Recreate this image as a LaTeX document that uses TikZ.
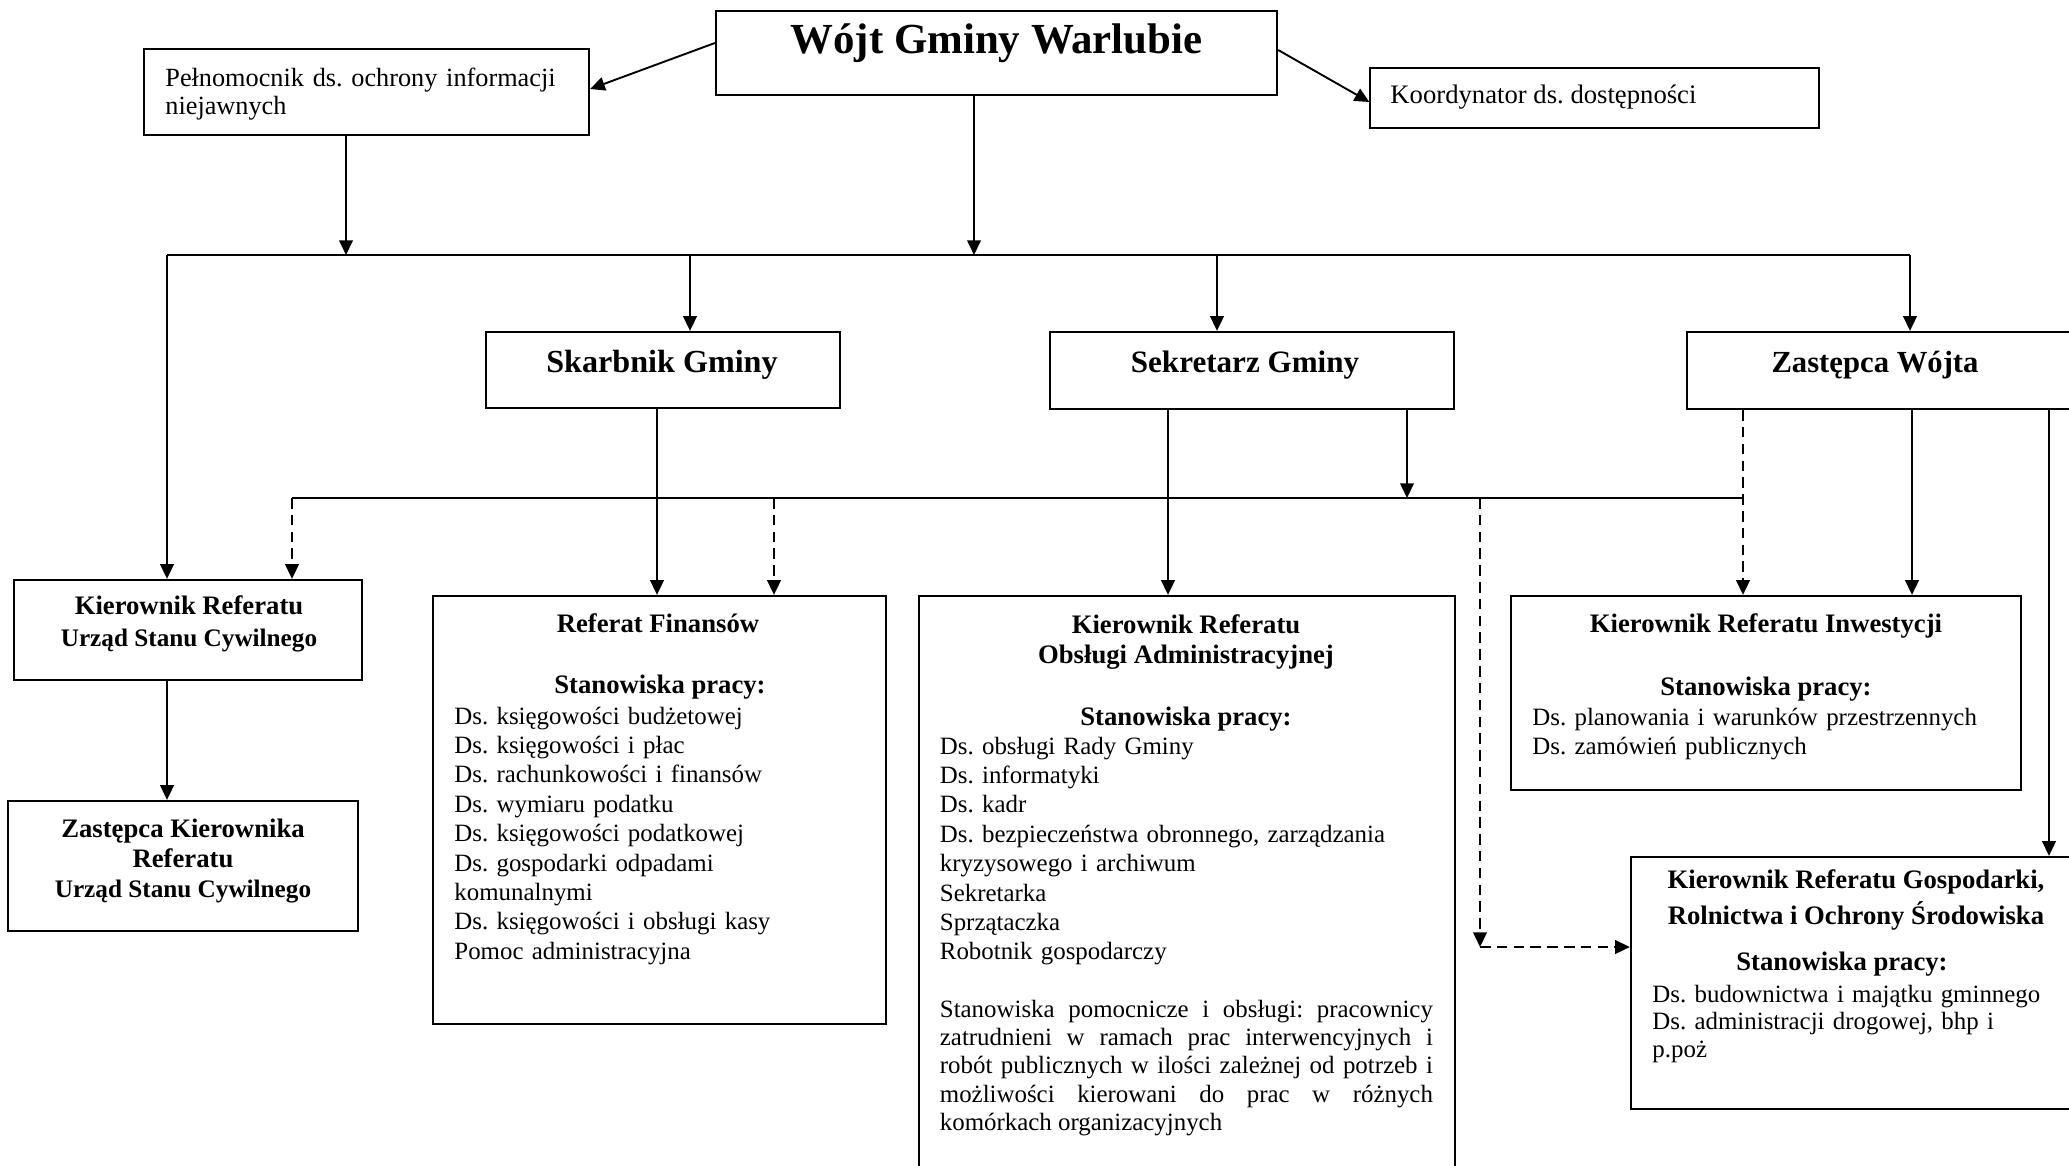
\documentclass[tikz,border=0pt]{standalone}
\usepackage{fontspec}
\setmainfont{Liberation Serif}
\usetikzlibrary{arrows.meta}
\newcommand{\orgbox}[6]{\node[#1, minimum width={(#5-#3)*0.476pt}, minimum height={(#6-#4)*0.476pt}] (#2) at ({(#3+#5)/2},{(#4+#6)/2}) {};}
\tikzset{
 box/.style={draw, line width=1.1pt, inner sep=0pt},
 thinbox/.style={draw, line width=0.6pt, inner sep=0pt},
 conn/.style={line width=0.9pt},
 arr/.style={conn, -{Triangle[length=7pt,width=6.5pt]}},
 darr/.style={arr, dash pattern=on 5pt off 3pt},
 bus/.style={line width=1.2pt},
 ttl/.style={font=\fontsize{20.4}{24}\selectfont\bfseries, anchor=base, inner sep=0pt},
 big/.style={font=\fontsize{14.6}{17}\selectfont\bfseries, anchor=base, inner sep=0pt},
 hd/.style={font=\fontsize{12.7}{15}\selectfont\bfseries, anchor=base, inner sep=0pt},
 hds/.style={font=\fontsize{12}{15}\selectfont\bfseries, anchor=base, inner sep=0pt},
 lbl/.style={font=\fontsize{12.7}{13.8}\selectfont, anchor=base west, inner sep=0pt, align=left},
 lst/.style={font=\fontsize{11.85}{14}\selectfont, anchor=base west, inner sep=0pt, align=left},
}
\begin{document}
\frenchspacing
\begin{tikzpicture}[x=0.476pt,y=-0.476pt]
\useasboundingbox (0,0) rectangle (2069,1165);
\clip (0,0) rectangle (2069,1165);
\fill[white] (0,0) rectangle (2069,1165);
% boxes
\orgbox{box}{wojt}{716}{11}{1277}{95}
\orgbox{box}{pel}{144}{49}{589}{135}
\orgbox{thinbox}{koord}{1370}{68}{1819}{128}
\orgbox{box}{skarb}{486}{332}{840}{408}
\orgbox{box}{sekr}{1050}{332}{1454}{409}
\orgbox{box}{zast}{1687}{332}{2095}{409}
\orgbox{box}{usc}{14}{580}{362}{680}
\orgbox{box}{zusc}{8}{801}{358}{931}
\orgbox{box}{fin}{433}{596}{886}{1024}
\orgbox{box}{obs}{919}{596}{1455}{1210}
\orgbox{box}{inw}{1511}{596}{2021}{790}
\orgbox{box}{gosp}{1631}{857}{2095}{1109}
% texts
\node[ttl] (twojt) at (996.5,53) {Wójt Gminy Warlubie};
\node[lbl, font=\fontsize{12.5}{13.8}\selectfont, text width=420*0.476pt] (tpel) at (165,86) {Pełnomocnik ds. ochrony informacji\\niejawnych};
\node[lbl] (tkoord) at (1390,103) {Koordynator ds. dostępności};
\node[big, font=\fontsize{15.3}{17}\selectfont\bfseries] (tskarb) at (662,372) {Skarbnik Gminy};
\node[big, font=\fontsize{14.8}{17}\selectfont\bfseries] (tsekr) at (1245,372) {Sekretarz Gminy};
\node[big] (tzast) at (1875,372) {Zastępca Wójta};
\node[hd] (tusc1) at (189,614) {Kierownik Referatu};
\node[hds] (tusc2) at (189,646) {Urząd Stanu Cywilnego};
\node[hd] (tzusc1) at (183,837) {Zastępca Kierownika};
\node[hd] (tzusc2) at (183,867) {Referatu};
\node[hds] (tzusc3) at (183,897) {Urząd Stanu Cywilnego};
\node[hd] (tfin1) at (658,632) {Referat Finansów};
\node[hd] (tfin2) at (660,693) {Stanowiska pracy:};
\node[lst, text width=420*0.476pt] (tfin3) at (454,724) {Ds. księgowości budżetowej\\Ds. księgowości i płac\\Ds. rachunkowości i finansów\\Ds. wymiaru podatku\\Ds. księgowości podatkowej\\Ds. gospodarki odpadami\\komunalnymi\\Ds. księgowości i obsługi kasy\\Pomoc administracyjna};
\node[hd] (tobs1) at (1186,633) {Kierownik Referatu};
\node[hd] (tobs2) at (1186,663) {Obsługi Administracyjnej};
\node[hd] (tobs3) at (1186,725) {Stanowiska pracy:};
\node[lst, text width=500*0.476pt] (tobs4) at (939.5,754) {Ds. obsługi Rady Gminy\\Ds. informatyki\\Ds. kadr\\Ds. bezpieczeństwa obronnego, zarządzania\\kryzysowego i archiwum\\Sekretarka\\Sprzątaczka\\Robotnik gospodarczy};
\node[lst, font=\fontsize{11.85}{13.5}\selectfont, text width=493*0.476pt, align=justify] (tobs5) at (939.5,1017) {\hyphenpenalty=10000\exhyphenpenalty=10000 Stanowiska pomocnicze i obsługi: pracownicy\linebreak zatrudnieni w ramach prac interwencyjnych i\linebreak robót publicznych w ilości zależnej od potrzeb i\linebreak możliwości kierowani do prac w różnych\linebreak komórkach organizacyjnych};
\node[hd] (tinw1) at (1766,632) {Kierownik Referatu Inwestycji};
\node[hd] (tinw2) at (1766,695) {Stanowiska pracy:};
\node[lst, text width=470*0.476pt] (tinw3) at (1532,725) {Ds. planowania i warunków przestrzennych\\Ds. zamówień publicznych};
\node[hd] (tgosp1) at (1856,888) {Kierownik Referatu Gospodarki,};
\node[hd] (tgosp2) at (1856,924) {Rolnictwa i Ochrony Środowiska};
\node[hd] (tgosp3) at (1842,970) {Stanowiska pracy:};
\node[lst, font=\fontsize{11.85}{13.3}\selectfont, text width=420*0.476pt] (tgosp4) at (1652,1002) {Ds. budownictwa i majątku gminnego\\Ds. administracji drogowej, bhp i\\p.poż};
% junction coordinates
\coordinate (b1L) at (167,255);
\coordinate (b1R) at (1910,255);
\coordinate (b1p) at (346,255);
\coordinate (b1w) at (974,255);
\coordinate (b1s) at (690,255);
\coordinate (b1k) at (1217,255);
\coordinate (b2L) at (292,498);
\coordinate (b2R) at (1743,498);
\coordinate (b2f) at (774,498);
\coordinate (b2s) at (1407,498);
\coordinate (b2g) at (1480,498);
\coordinate (gc) at (1480,947);
\coordinate (xf) at (657,0);
\coordinate (xo) at (1168,0);
\coordinate (xi) at (1912,0);
\coordinate (xg) at (2049,0);
\coordinate (yw1) at (0,43);
\coordinate (yp1) at (0,89);
\coordinate (yw2) at (0,50);
\coordinate (yk1) at (0,102);
% connectors
\draw[arr] (wojt.west |- yw1) -- (pel.east |- yp1);
\draw[arr] (wojt.east |- yw2) -- (koord.west |- yk1);
\draw[arr] (pel.south -| b1p) -- (b1p);
\draw[arr] (wojt.south -| b1w) -- (b1w);
\draw[bus] (b1L) -- (b1R);
\draw[arr] (b1L) -- (usc.north -| b1L);
\draw[arr] (b1s) -- (skarb.north -| b1s);
\draw[arr] (b1k) -- (sekr.north -| b1k);
\draw[arr] (b1R) -- (zast.north -| b1R);
\draw[arr] (usc.south -| b1L) -- (zusc.north -| b1L);
\draw[arr] (skarb.south -| xf) -- (fin.north -| xf);
\draw[bus] (b2L) -- (b2R);
\draw[darr] (b2L) -- (usc.north -| b2L);
\draw[darr] (b2f) -- (fin.north -| b2f);
\draw[arr] (sekr.south -| xo) -- (obs.north -| xo);
\draw[arr] (sekr.south -| b2s) -- (b2s);
\draw[darr] (zast.south -| b2R) -- (inw.north -| b2R);
\draw[darr] (b2g) -- (gc);
\draw[darr] (gc) -- (gosp.west |- gc);
\draw[arr] (zast.south -| xi) -- (inw.north -| xi);
\draw[arr] (zast.south -| xg) -- (gosp.north -| xg);
\end{tikzpicture}
\end{document}
